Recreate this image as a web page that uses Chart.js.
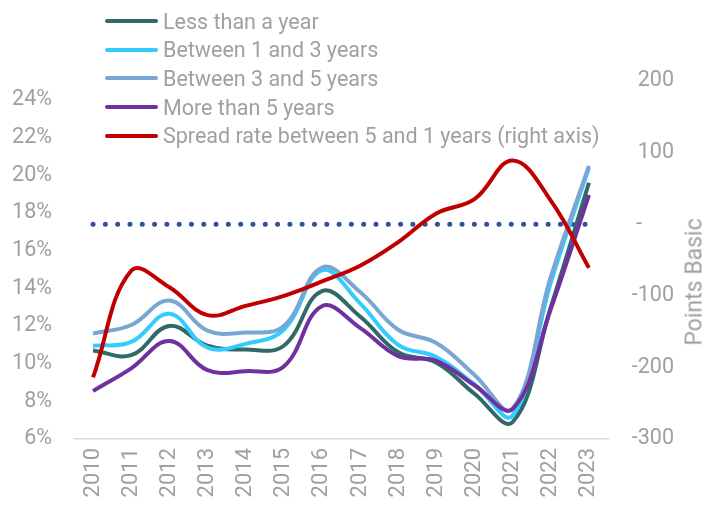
<!DOCTYPE html>
<html>
<head>
<meta charset="utf-8">
<script src="https://cdn.jsdelivr.net/npm/chart.js@4.4.1/dist/chart.umd.min.js"></script>
<style>
  html, body { margin: 0; padding: 0; background: #ffffff; }
  #wrap { position: relative; width: 707px; height: 510px; overflow: hidden; }
  #legend { position: absolute; left: 105px; top: 7px; font-family: Roboto, "Open Sans", sans-serif; font-size: 21.5px; color: #A0A0A0; }
  .row { display: flex; align-items: center; height: 28.6px; white-space: nowrap; }
  .sw { width: 53px; height: 4px; border-radius: 2px; margin-right: 5px; flex: none; }
  #ytitle { position: absolute; left: 694px; top: 282px; transform: translate(-50%, -50%) rotate(-90deg); font-family: Roboto, sans-serif; font-size: 23px; color: #A0A0A0; white-space: nowrap; }
</style>
</head>
<body>
<div id="wrap">
  <canvas id="c" width="707" height="510"></canvas>
  <div id="legend"></div>
  <div id="ytitle">Points Basic</div>
</div>
<script>
const years = ['2010','2011','2012','2013','2014','2015','2016','2017','2018','2019','2020','2021','2022','2023'];
const lessThanYear = [10.7, 10.45, 12.0, 10.95, 10.75, 10.95, 13.85, 12.5, 10.6, 10.05, 8.4, 6.9, 13.0, 19.6];
const between1and3 = [10.95, 11.15, 12.65, 10.85, 11.05, 11.8, 14.95, 13.2, 11.0, 10.35, 8.9, 7.25, 14.3, 20.4];
const between3and5 = [11.6, 12.05, 13.35, 11.75, 11.65, 12.0, 15.1, 13.8, 11.8, 11.1, 9.4, 7.6, 14.6, 20.5];
const moreThan5 = [8.55, 9.75, 11.2, 9.65, 9.6, 9.85, 13.05, 11.9, 10.4, 10.15, 8.85, 7.6, 12.9, 18.95];
const spread = [-214, -65, -88, -127, -114, -100, -80, -58, -25, 15, 35, 89, 33, -61];
const zeroLine = [0, 0, 0, 0, 0, 0, 0, 0, 0, 0, 0, 0, 0, 0];
const leftTicks = [6, 8, 10, 12, 14, 16, 18, 20, 22, 24];
const rightTicks = [-300, -200, -100, 0, 100, 200];

const labels = ['Less than a year', 'Between 1 and 3 years', 'Between 3 and 5 years', 'More than 5 years', 'Spread rate between 5 and 1 years (right axis)'];
const colors = ['#2F6A69', '#33CCFF', '#7AA6D6', '#7030A0', '#C00000'];
const series = [lessThanYear, between1and3, between3and5, moreThan5, spread];

const gray = '#A0A0A0';
const font = { family: 'Roboto, sans-serif', size: 21.5 };

const datasets = series.map((d, i) => ({
  label: labels[i],
  data: d,
  borderColor: colors[i],
  backgroundColor: colors[i],
  borderWidth: 4,
  pointRadius: 0,
  tension: 0.4,
  fill: false,
  yAxisID: i === 4 ? 'y1' : 'y',
  order: 10 - i
}));
datasets.push({
  label: 'zero',
  data: zeroLine,
  borderColor: '#2E4F9C',
  borderWidth: 5,
  borderDash: [0, 12.3],
  borderCapStyle: 'round',
  pointRadius: 0,
  tension: 0,
  yAxisID: 'y1',
  order: 20
});

// HTML legend
const lg = document.getElementById('legend');
labels.forEach((t, i) => {
  const r = document.createElement('div'); r.className = 'row';
  const s = document.createElement('span'); s.className = 'sw'; s.style.background = colors[i];
  const tx = document.createElement('span'); tx.textContent = t;
  r.appendChild(s); r.appendChild(tx); lg.appendChild(r);
});

new Chart(document.getElementById('c'), {
  type: 'line',
  data: { labels: years, datasets },
  options: {
    responsive: false,
    animation: false,
    devicePixelRatio: 1,
    layout: { padding: { top: 81, left: 0, right: 33, bottom: 0 } },
    plugins: { legend: { display: false }, tooltip: { enabled: false } },
    scales: {
      x: {
        offset: true,
        grid: { display: false, drawTicks: false },
        border: { display: true, color: '#D9D9D9', width: 1.5 },
        ticks: { color: gray, font: { family: 'Roboto, sans-serif', size: 22 }, maxRotation: 90, minRotation: 90, padding: 9, autoSkip: false },
        afterFit: s => { s.height = 71; }
      },
      y: {
        position: 'left',
        min: 6, max: 25,
        grid: { display: false, drawTicks: false },
        border: { display: false },
        afterBuildTicks: a => { a.ticks = leftTicks.map(v => ({ value: v })); },
        ticks: { color: gray, font, padding: 22, callback: v => v + '%' },
        afterFit: s => { s.width = 74; }
      },
      y1: {
        position: 'right',
        min: -300, max: 200,
        grid: { display: false, drawTicks: false },
        border: { display: false },
        afterBuildTicks: a => { a.ticks = rightTicks.map(v => ({ value: v })); },
        ticks: { color: gray, font, padding: 20, crossAlign: 'far', callback: v => v === 0 ? '-      ' : String(v) },
        afterFit: s => { s.width = 66; }
      }
    }
  }
});
</script>
</body>
</html>
